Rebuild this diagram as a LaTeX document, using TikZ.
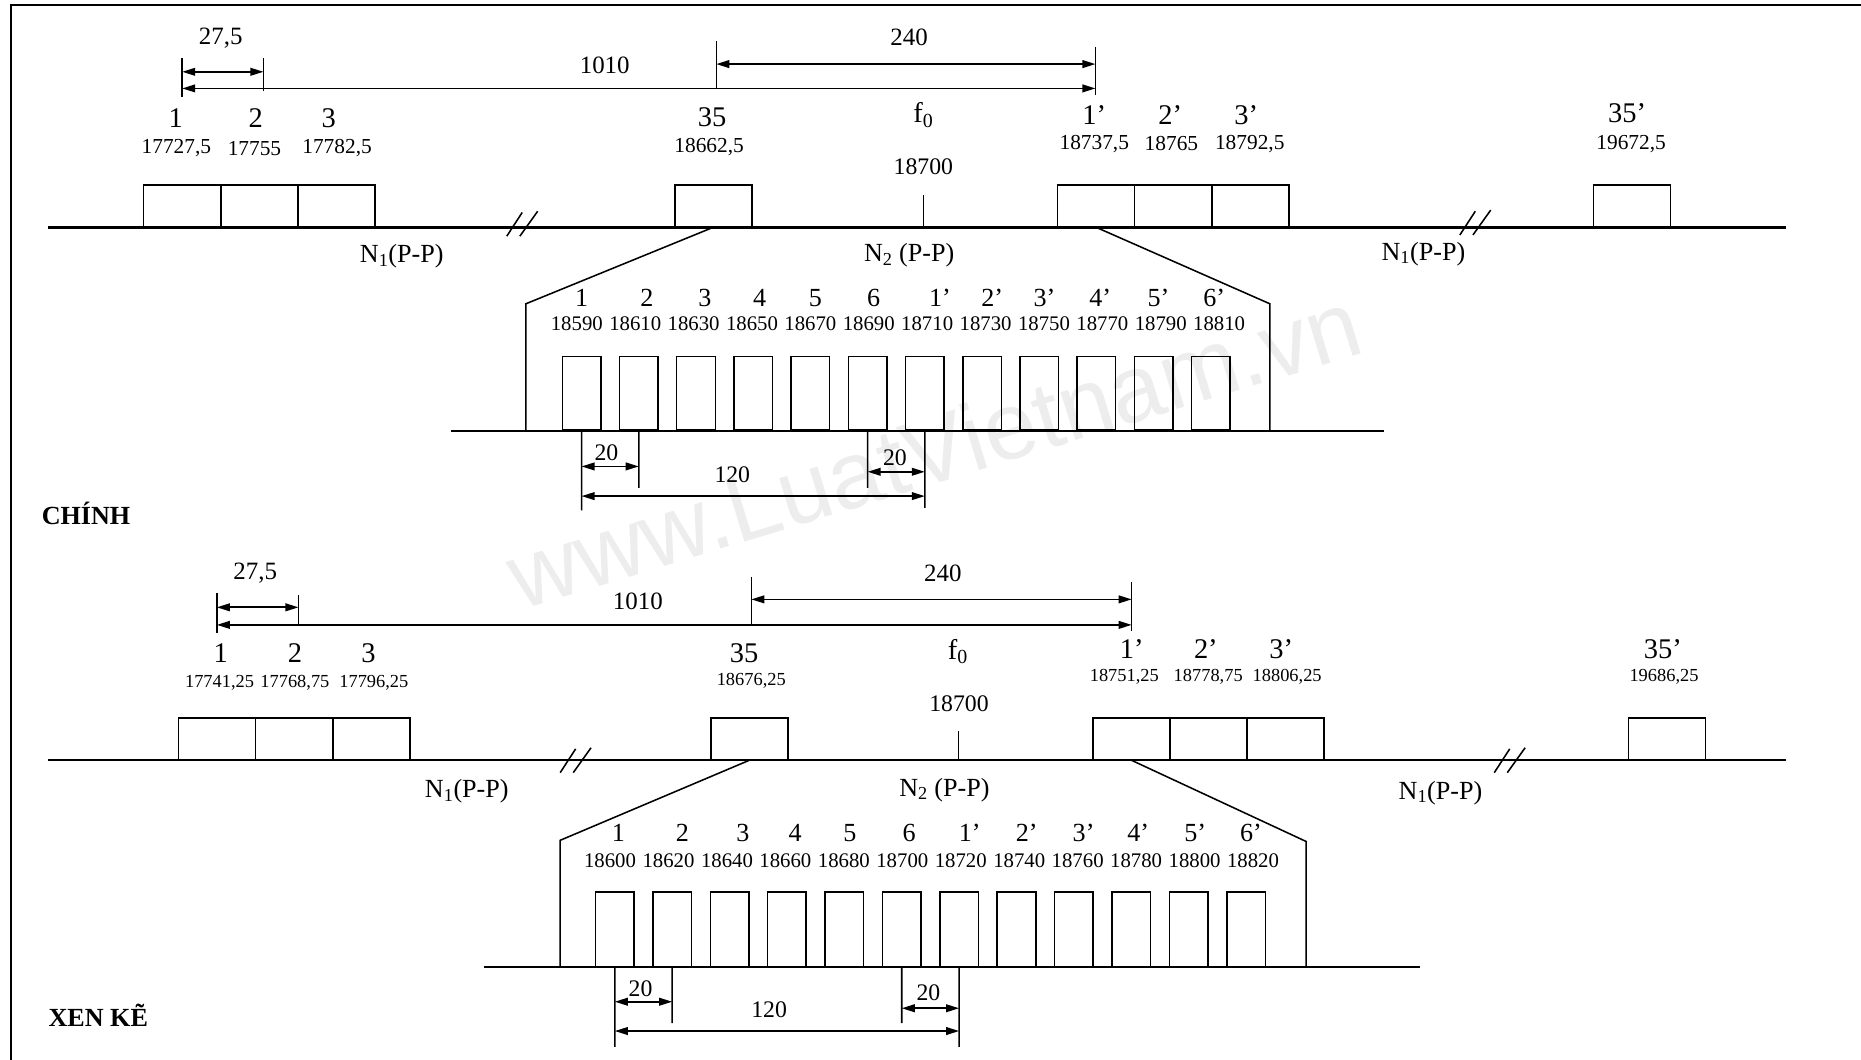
\documentclass[tikz,border=0pt]{standalone}
\usepackage{fontspec}
\setmainfont{Liberation Serif}
\newfontfamily\wmfont{Liberation Sans}
\usetikzlibrary{arrows.meta}
\newcommand\fs[1]{\fontsize{#1}{#1}\selectfont}
\begin{document}
\begin{tikzpicture}[x=1pt,y=-1pt,
  >={Triangle[length=11pt,width=6.5pt]},
  framel/.style={line width=1.8pt},
  axisline/.style={line width=2.2pt},
  thinline/.style={line width=1.3pt},
  chan/.style={draw,line width=1.4pt,inner sep=0pt,minimum width=65pt,minimum height=35pt,anchor=south},
  subch/.style={draw,line width=1.3pt,inner sep=0pt,minimum width=32.5pt,minimum height=62pt,anchor=south},
  lbl/.style={inner sep=0pt,font=\fs{24}},
  frqA/.style={inner sep=0pt,font=\fs{18}},
  frqB/.style={inner sep=0pt,font=\fs{15.5}},
  sublbl/.style={inner sep=0pt,font=\fs{22}},
  subfrq/.style={inner sep=0pt,font=\fs{17.5}},
  dimtxt/.style={inner sep=0pt,font=\fs{21}},
  nlbl/.style={inner sep=0pt,font=\fs{22}},
  ttl/.style={inner sep=0pt,font=\fs{22}\bfseries,anchor=west},
  dimline/.style={line width=1.4pt,<->},
  brk/.pic={\draw[line width=1.3pt] (-13,10)--(0,-10) (-2,10)--(13,-11);}
]
\useasboundingbox (0,0) rectangle (1568,893);
% watermark
\node[rotate=17, text=black!7, font=\wmfont\fs{80}, inner sep=0pt] (wm) at (787,378) {www.LuatVietnam.vn};
% frame
\coordinate (FrR) at (1568,4.5);
\coordinate (FrC) at (9.5,4.5);
\coordinate (FrB) at (9.5,893);
\draw[framel] (FrR) -- (FrC) -- (FrB);

% =================== PANEL A (CHINH) ===================
\coordinate (AL) at (40.5,191.5);
\coordinate (AR) at (1505,191.5);
\draw[axisline] (AL) -- (AR);
\node[chan] (Ac1) at (153.5,191.5) {};
\node[chan] (Ac2) at (218.5,191.5) {};
\node[chan] (Ac3) at (283.5,191.5) {};
\node[chan] (Ac35) at (601,191.5) {};
\node[chan] (Ad1) at (923.5,191.5) {};
\node[chan] (Ad2) at (988.5,191.5) {};
\node[chan] (Ad3) at (1053.5,191.5) {};
\node[chan] (Ad35) at (1375,191.5) {};
\coordinate (Aft) at (778,191.5);
\coordinate (Aftt) at (778,164.5);
\draw[thinline] (Aft) -- (Aftt);
\pic at (440,189) {brk};
\pic at (1243,188) {brk};
% labels
\node[lbl] (Al1) at (148,99.5) {1};
\node[lbl] (Al2) at (215.5,99.5) {2};
\node[lbl] (Al3) at (277,99.5) {3};
\node[lbl] (Al35) at (600,98.5) {35};
\node[lbl] (Alf) at (778,97) {f\textsubscript{0}};
\node[lbl] (Alp1) at (922,97) {1’};
\node[lbl] (Alp2) at (986,97) {2’};
\node[lbl] (Alp3) at (1050,97) {3’};
\node[lbl] (Alp35) at (1371,95.5) {35’};
\node[frqA] (Ag1) at (148.6,125) {17727,5};
\node[frqA] (Ag2) at (214.4,125) {17755};
\node[frqA] (Ag3) at (284,125) {17782,5};
\node[frqA] (Ag35) at (597.5,123.6) {18662,5};
\node[inner sep=0pt,font=\fs{20}] (Ag0) at (778,140.5) {18700};
\node[frqA] (Agp1) at (922,121) {18737,5};
\node[frqA] (Agp2) at (987,121) {18765};
\node[frqA] (Agp3) at (1053,121) {18792,5};
\node[frqA] (Agp35) at (1374.3,121) {19672,5};
\node[nlbl] (AN1) at (338.5,216.3) {N\textsubscript{1}(P-P)};
\node[nlbl] (AN2) at (766,215) {N\textsubscript{2} (P-P)};
\node[nlbl] (AN3) at (1199.3,214) {N\textsubscript{1}(P-P)};
% top dimensions
\coordinate (Atk1a) at (153.5,49);  \coordinate (Atk1b) at (153.5,82);
\coordinate (Atk2a) at (222,49);    \coordinate (Atk2b) at (222,76.5);
\coordinate (Atk3a) at (603.5,34.5);\coordinate (Atk3b) at (603.5,75);
\coordinate (Atk4a) at (923,39.5);  \coordinate (Atk4b) at (923,80);
\draw[thinline] (Atk1a)--(Atk1b) (Atk2a)--(Atk2b) (Atk3a)--(Atk3b) (Atk4a)--(Atk4b);
\coordinate (Ap1) at (153.5,60.5); \coordinate (Ap2) at (222,60.5);
\coordinate (Ap3) at (153.5,74.5); \coordinate (Ap4) at (923,74.5);
\coordinate (Ap5) at (603.5,54);   \coordinate (Ap6) at (923,54);
\draw[dimline] (Ap1)--(Ap2);
\draw[dimline] (Ap3)--(Ap4);
\draw[dimline] (Ap5)--(Ap6);
\node[dimtxt] (Ax1) at (186,32) {27,5};
\node[dimtxt] (Ax2) at (509.5,55) {1010};
\node[dimtxt] (Ax3) at (766,31.5) {240};
% expansion
\coordinate (AeL) at (443,256); \coordinate (AeLb) at (443,363);
\coordinate (AeR) at (1070,256); \coordinate (AeRb) at (1070,363);
\draw[thinline] (Ac35.south) -- (AeL) -- (AeLb);
\draw[thinline] (Ad1.south) -- (AeR) -- (AeRb);
\coordinate (AbL) at (380,363); \coordinate (AbR) at (1166,363);
\draw[line width=1.6pt] (AbL) -- (AbR);
\foreach \i in {0,...,11} \node[subch] (As\i) at ({490+48.2*\i},363) {};
\foreach \x/\t [count=\i] in {490/1,545/2,594/3,640/4,687/5,736/6,792/1’,836/2’,880/3’,927/4’,976/5’,1023/6’}
  \node[sublbl] (An\i) at (\x,251) {\t};
\foreach \i in {0,...,11} {
  \node[subfrq] (Aq\i) at ({486+49.2*\i},273) {\the\numexpr18590+20*\i\relax};
}
\coordinate (Ave1) at (490,430); \coordinate (Ave2) at (538.2,411);
\coordinate (Ave6) at (731,411); \coordinate (Ave7) at (779.2,428);
\draw[thinline] (As0.south)--(Ave1) (As1.south)--(Ave2) (As5.south)--(Ave6) (As6.south)--(Ave7);
\coordinate (Aw1) at (490,393);   \coordinate (Aw2) at (538.2,393);
\coordinate (Aw3) at (731,397.5); \coordinate (Aw4) at (779.2,397.5);
\coordinate (Aw5) at (490,418);   \coordinate (Aw6) at (779.2,418);
\draw[dimline] (Aw1)--(Aw2);
\draw[dimline] (Aw3)--(Aw4);
\draw[dimline] (Aw5)--(Aw6);
\node[inner sep=0pt,font=\fs{20}] (Ay1) at (511,381.5) {20};
\node[inner sep=0pt,font=\fs{20}] (Ay2) at (754,386) {20};
\node[inner sep=0pt,font=\fs{20}] (Ay3) at (617,400) {120};
\node[ttl] (Atitle) at (35,432.5) {CHÍNH};

% =================== PANEL B (XEN KE) ===================
\coordinate (BL) at (40.5,640.5);
\coordinate (BR) at (1505,640.5);
\draw[axisline] (BL) -- (BR);
\node[chan] (Bc1) at (182.8,640.5) {};
\node[chan] (Bc2) at (247.8,640.5) {};
\node[chan] (Bc3) at (312.8,640.5) {};
\node[chan] (Bc35) at (631.5,640.5) {};
\node[chan] (Bd1) at (953.2,640.5) {};
\node[chan] (Bd2) at (1018.2,640.5) {};
\node[chan] (Bd3) at (1083.2,640.5) {};
\node[chan] (Bd35) at (1404.5,640.5) {};
\coordinate (Bft) at (807.5,640.5);
\coordinate (Bftt) at (807.5,615.5);
\draw[thinline] (Bft) -- (Bftt);
\pic at (485,641) {brk};
\pic at (1272,641) {brk};
\node[lbl] (Bl1) at (186,550.5) {1};
\node[lbl] (Bl2) at (248.5,550.5) {2};
\node[lbl] (Bl3) at (310.5,550.5) {3};
\node[lbl] (Bl35) at (627,550.5) {35};
\node[lbl] (Blf) at (807,549) {f\textsubscript{0}};
\node[lbl] (Blp1) at (953.5,547) {1’};
\node[lbl] (Blp2) at (1016,547) {2’};
\node[lbl] (Blp3) at (1079.6,547) {3’};
\node[lbl] (Blp35) at (1401,547) {35’};
\node[frqB] (Bg1) at (185,575) {17741,25};
\node[frqB] (Bg2) at (248.5,575) {17768,75};
\node[frqB] (Bg3) at (315,575) {17796,25};
\node[frqB] (Bg35) at (633,574) {18676,25};
\node[inner sep=0pt,font=\fs{20}] (Bg0) at (808,592.6) {18700};
\node[frqB] (Bgp1) at (947.3,570) {18751,25};
\node[frqB] (Bgp2) at (1018,570) {18778,75};
\node[frqB] (Bgp3) at (1084.5,570) {18806,25};
\node[frqB] (Bgp35) at (1402,570) {19686,25};
\node[nlbl] (BN1) at (393.3,667) {N\textsubscript{1}(P-P)};
\node[nlbl] (BN2) at (795.7,665.6) {N\textsubscript{2} (P-P)};
\node[nlbl] (BN3) at (1213.7,668) {N\textsubscript{1}(P-P)};
\coordinate (Btk1a) at (182.7,500);  \coordinate (Btk1b) at (182.7,533.6);
\coordinate (Btk2a) at (251.5,501);  \coordinate (Btk2b) at (251.5,527.5);
\coordinate (Btk3a) at (633,486);    \coordinate (Btk3b) at (633,526.5);
\coordinate (Btk4a) at (953.5,490);  \coordinate (Btk4b) at (953.5,531.6);
\draw[thinline] (Btk1a)--(Btk1b) (Btk2a)--(Btk2b) (Btk3a)--(Btk3b) (Btk4a)--(Btk4b);
\coordinate (Bp1) at (182.7,511.7); \coordinate (Bp2) at (251.5,511.7);
\coordinate (Bp3) at (182.7,526.5); \coordinate (Bp4) at (953.5,526.5);
\coordinate (Bp5) at (633,505);     \coordinate (Bp6) at (953.5,505);
\draw[dimline] (Bp1)--(Bp2);
\draw[dimline] (Bp3)--(Bp4);
\draw[dimline] (Bp5)--(Bp6);
\node[dimtxt] (Bx1) at (215,483) {27,5};
\node[dimtxt] (Bx2) at (537.4,506.4) {1010};
\node[dimtxt] (Bx3) at (794.4,483) {240};
\coordinate (BeL) at (472,708); \coordinate (BeLb) at (472,815);
\coordinate (BeR) at (1100.5,709); \coordinate (BeRb) at (1100.5,815);
\draw[thinline] (Bc35.south) -- (BeL) -- (BeLb);
\draw[thinline] (Bd1.south) -- (BeR) -- (BeRb);
\coordinate (BbL) at (408,815); \coordinate (BbR) at (1196,815);
\draw[line width=1.6pt] (BbL) -- (BbR);
\foreach \i in {0,...,11} \node[subch,minimum height=63pt] (Bs\i) at ({518+48.35*\i},815) {};
\foreach \x/\t [count=\i] in {521/1,575/2,626/3,670/4,716/5,766/6,817/1’,865/2’,913/3’,959/4’,1007/5’,1054/6’}
  \node[sublbl] (Bn\i) at (\x,702) {\t};
\foreach \i in {0,...,11} {
  \node[subfrq] (Bq\i) at ({514+49.25*\i},725) {\the\numexpr18600+20*\i\relax};
}
\coordinate (Bve1) at (518,882);     \coordinate (Bve2) at (566.35,862);
\coordinate (Bve6) at (759.75,862);  \coordinate (Bve7) at (808.1,882);
\draw[thinline] (Bs0.south)--(Bve1) (Bs1.south)--(Bve2) (Bs5.south)--(Bve6) (Bs6.south)--(Bve7);
\coordinate (Bw1) at (518,844);     \coordinate (Bw2) at (566.35,844);
\coordinate (Bw3) at (759.75,849.5);\coordinate (Bw4) at (808.1,849.5);
\coordinate (Bw5) at (518,868.7);   \coordinate (Bw6) at (808.1,868.7);
\draw[dimline] (Bw1)--(Bw2);
\draw[dimline] (Bw3)--(Bw4);
\draw[dimline] (Bw5)--(Bw6);
\node[inner sep=0pt,font=\fs{20}] (By1) at (539.7,833) {20};
\node[inner sep=0pt,font=\fs{20}] (By2) at (782.3,836.7) {20};
\node[inner sep=0pt,font=\fs{20}] (By3) at (648,851) {120};
\node[ttl] (Btitle) at (40.7,855.2) {XEN KẼ};
\end{tikzpicture}
\end{document}
